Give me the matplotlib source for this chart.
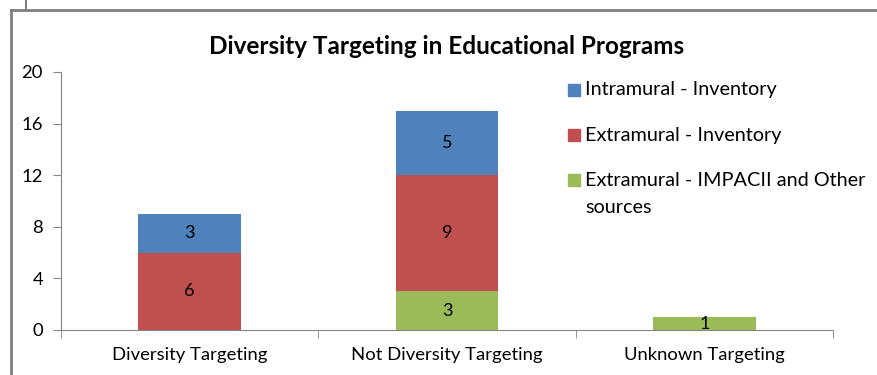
import matplotlib
matplotlib.use("Agg")
import matplotlib.pyplot as plt
from matplotlib.lines import Line2D
from matplotlib.patches import Rectangle
import numpy as np

categories = ["Diversity Targeting", "Not Diversity Targeting", "Unknown Targeting"]
extramural_other = [0, 3, 1]
extramural_inv = [6, 9, 0]
intramural_inv = [3, 5, 0]

series_names = ["Intramural - Inventory", "Extramural - Inventory",
                "Extramural - IMPACII and Other", "sources"]
colors = {"intra": "#4F81BD", "extra": "#C0504D", "other": "#9BBB59"}

plt.rcParams['font.family'] = ['Lato', 'DejaVu Sans']

W, H = 877, 375
fig = plt.figure(figsize=(W / 100, H / 100), dpi=100)
ax = fig.add_axes([0.0696, 0.12, 0.8802, 0.688])

x = np.arange(len(categories))
w = 0.4
b1 = ax.bar(x, extramural_other, w, color=colors["other"])
b2 = ax.bar(x, extramural_inv, w, bottom=extramural_other, color=colors["extra"])
bottom3 = np.array(extramural_other) + np.array(extramural_inv)
b3 = ax.bar(x, intramural_inv, w, bottom=bottom3, color=colors["intra"])

# value labels centred in each non-empty segment
for bars, vals, bots in [(b1, extramural_other, [0, 0, 0]),
                         (b2, extramural_inv, extramural_other),
                         (b3, intramural_inv, bottom3)]:
    for rect, v, b in zip(bars, vals, bots):
        if v > 0:
            ax.text(rect.get_x() + rect.get_width() / 2, b + v / 2, str(v),
                    ha="center", va="center", fontsize=13, color="black")

ax.set_xlim(-0.5, 2.5)
ax.set_ylim(0, 20)
ax.set_yticks(range(0, 21, 4))
ax.set_xticks(x)
ax.set_xticklabels(categories, fontsize=13.3)
ax.set_xticks([-0.5, 0.5, 1.5, 2.5], minor=True)
ax.tick_params(axis="x", which="major", length=0, pad=12)
ax.tick_params(axis="x", which="minor", length=6, color="#868686")
ax.tick_params(axis="y", labelsize=13.3, length=6, color="#868686", pad=7)

for side in ["top", "right"]:
    ax.spines[side].set_visible(False)
for side in ["left", "bottom"]:
    ax.spines[side].set_color("#868686")

fig.text(447 / W, 1 - 47 / H, "Diversity Targeting in Educational Programs",
         ha="center", va="center", fontsize=17.5, fontweight="bold")

# legend, drawn by hand so the wrapped label keeps its square on the first line
legend_rows = [(colors["intra"], series_names[0], 90),
               (colors["extra"], series_names[1], 135),
               (colors["other"], series_names[2], 180)]
for c, label, yc in legend_rows:
    fig.add_artist(Rectangle((568 / W, 1 - (yc + 6) / H), 12 / W, 12 / H,
                             transform=fig.transFigure, color=c))
    fig.text(585 / W, 1 - yc / H, label, ha="left", va="center", fontsize=14.3)
fig.text(585 / W, 1 - 207 / H, series_names[3], ha="left", va="center", fontsize=14.3)

# outer chart frame
fig.add_artist(Line2D([10.5 / W, 10.5 / W], [0, 1 - 10 / H], color="#7f7f7f", lw=2))
fig.add_artist(Line2D([10.5 / W, 1.0], [1 - 10 / H, 1 - 10 / H], color="#7f7f7f", lw=2))
fig.add_artist(Line2D([26 / W, 26 / W], [1 - 10 / H, 1.0], color="#7f7f7f", lw=1.5))

fig.savefig("out.png", dpi=100)
